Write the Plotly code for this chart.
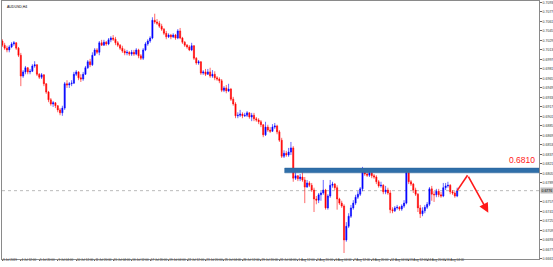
import plotly.graph_objects as go

# ---------------- data (AUDUSD, H4) ----------------
opens = [
    0.7028, 0.7021, 0.7016, 0.7013, 0.7018, 0.7023, 0.7025, 0.7016, 0.7004, 0.6969,
    0.6976, 0.6983, 0.6976, 0.6977, 0.6986, 0.6988, 0.6972, 0.6967, 0.6971, 0.6956,
    0.6942, 0.6929, 0.6922, 0.6924, 0.6919, 0.6912, 0.6907, 0.6915, 0.6956, 0.6954,
    0.6956, 0.6957, 0.6972, 0.6976, 0.6966, 0.6964, 0.6972, 0.6983, 0.6993, 0.6988,
    0.7004, 0.7013, 0.7009, 0.7025, 0.7021, 0.7026, 0.7023, 0.7030, 0.7033, 0.7031,
    0.7025, 0.7021, 0.7016, 0.7011, 0.7008, 0.7009, 0.7006, 0.7009, 0.7006, 0.7013,
    0.7003, 0.6999, 0.7013, 0.7023, 0.7028, 0.7033, 0.7063, 0.7060, 0.7058, 0.7053,
    0.7048, 0.7041, 0.7035, 0.7038, 0.7035, 0.7038, 0.7033, 0.7045, 0.7033, 0.7026,
    0.7021, 0.7018, 0.7013, 0.7020, 0.6999, 0.6991, 0.6993, 0.6974, 0.6976, 0.6972,
    0.6976, 0.6969, 0.6972, 0.6966, 0.6964, 0.6961, 0.6945, 0.6949, 0.6944, 0.6947,
    0.6930, 0.6922, 0.6902, 0.6903, 0.6905, 0.6902, 0.6903, 0.6907, 0.6900, 0.6903,
    0.6897, 0.6895, 0.6892, 0.6887, 0.6870, 0.6883, 0.6878, 0.6876, 0.6883, 0.6885,
    0.6875, 0.6861, 0.6834, 0.6839, 0.6836, 0.6841, 0.6848, 0.6797, 0.6801, 0.6796,
    0.6799, 0.6794, 0.6782, 0.6789, 0.6785, 0.6777, 0.6762, 0.6760, 0.6769, 0.6772,
    0.6777, 0.6747, 0.6767, 0.6785, 0.6787, 0.6781, 0.6762, 0.6755, 0.6750, 0.6693,
    0.6716, 0.6733, 0.6747, 0.6755, 0.6765, 0.6770, 0.6779, 0.6807, 0.6804, 0.6802,
    0.6806, 0.6801, 0.6799, 0.6791, 0.6784, 0.6785, 0.6774, 0.6777, 0.6772, 0.6744,
    0.6742, 0.6747, 0.6748, 0.6745, 0.6750, 0.6755, 0.6806, 0.6791, 0.6787, 0.6777,
    0.6770, 0.6747, 0.6737, 0.6742, 0.6748, 0.6753, 0.6779, 0.6770, 0.6769, 0.6775,
    0.6769, 0.6767, 0.6781, 0.6784, 0.6785, 0.6774, 0.6772, 0.6767,
]
highs = [
    0.7031, 0.7025, 0.7020, 0.7021, 0.7026, 0.7028, 0.7026, 0.7018, 0.7008, 0.6979,
    0.6986, 0.6984, 0.6981, 0.6989, 0.6994, 0.6989, 0.6974, 0.6974, 0.6972, 0.6957,
    0.6944, 0.6932, 0.6927, 0.6925, 0.6920, 0.6915, 0.6919, 0.6959, 0.6962, 0.6959,
    0.6962, 0.6976, 0.6979, 0.6977, 0.6972, 0.6976, 0.6986, 0.6996, 0.6998, 0.7009,
    0.7016, 0.7016, 0.7028, 0.7030, 0.7030, 0.7028, 0.7033, 0.7036, 0.7038, 0.7035,
    0.7028, 0.7023, 0.7020, 0.7015, 0.7013, 0.7011, 0.7013, 0.7013, 0.7016, 0.7015,
    0.7006, 0.7016, 0.7026, 0.7031, 0.7036, 0.7068, 0.7074, 0.7065, 0.7062, 0.7057,
    0.7050, 0.7045, 0.7041, 0.7040, 0.7041, 0.7040, 0.7048, 0.7050, 0.7035, 0.7028,
    0.7023, 0.7021, 0.7025, 0.7021, 0.7001, 0.6996, 0.6994, 0.6979, 0.6981, 0.6981,
    0.6983, 0.6979, 0.6977, 0.6969, 0.6967, 0.6964, 0.6952, 0.6954, 0.6956, 0.6949,
    0.6934, 0.6925, 0.6908, 0.6912, 0.6908, 0.6907, 0.6910, 0.6908, 0.6907, 0.6907,
    0.6900, 0.6898, 0.6895, 0.6888, 0.6892, 0.6887, 0.6883, 0.6888, 0.6890, 0.6887,
    0.6878, 0.6865, 0.6844, 0.6843, 0.6848, 0.6858, 0.6851, 0.6807, 0.6802, 0.6804,
    0.6807, 0.6799, 0.6794, 0.6792, 0.6789, 0.6781, 0.6767, 0.6772, 0.6775, 0.6794,
    0.6779, 0.6770, 0.6794, 0.6791, 0.6789, 0.6785, 0.6764, 0.6759, 0.6753, 0.6723,
    0.6738, 0.6752, 0.6760, 0.6769, 0.6775, 0.6782, 0.6816, 0.6814, 0.6809, 0.6811,
    0.6809, 0.6804, 0.6802, 0.6794, 0.6791, 0.6787, 0.6784, 0.6781, 0.6777, 0.6748,
    0.6750, 0.6752, 0.6750, 0.6753, 0.6760, 0.6814, 0.6809, 0.6794, 0.6789, 0.6781,
    0.6772, 0.6752, 0.6748, 0.6752, 0.6757, 0.6782, 0.6784, 0.6775, 0.6779, 0.6779,
    0.6774, 0.6789, 0.6789, 0.6791, 0.6787, 0.6777, 0.6775, 0.6781,
]
lows = [
    0.7018, 0.7013, 0.7009, 0.7009, 0.7016, 0.7020, 0.7013, 0.7001, 0.6952, 0.6966,
    0.6972, 0.6972, 0.6972, 0.6976, 0.6983, 0.6969, 0.6964, 0.6964, 0.6952, 0.6939,
    0.6925, 0.6919, 0.6917, 0.6915, 0.6908, 0.6903, 0.6902, 0.6912, 0.6949, 0.6949,
    0.6952, 0.6956, 0.6969, 0.6962, 0.6959, 0.6961, 0.6971, 0.6981, 0.6984, 0.6986,
    0.7003, 0.7006, 0.7004, 0.7020, 0.7020, 0.7020, 0.7021, 0.7026, 0.7028, 0.7021,
    0.7018, 0.7013, 0.7008, 0.7004, 0.7004, 0.7003, 0.7003, 0.7003, 0.7004, 0.6999,
    0.6996, 0.6996, 0.7011, 0.7020, 0.7025, 0.7031, 0.7057, 0.7055, 0.7050, 0.7045,
    0.7038, 0.7031, 0.7033, 0.7031, 0.7033, 0.7030, 0.7031, 0.7031, 0.7023, 0.7018,
    0.7015, 0.7011, 0.7011, 0.6996, 0.6988, 0.6988, 0.6971, 0.6971, 0.6969, 0.6971,
    0.6966, 0.6966, 0.6962, 0.6961, 0.6957, 0.6942, 0.6942, 0.6940, 0.6942, 0.6927,
    0.6919, 0.6898, 0.6898, 0.6900, 0.6898, 0.6900, 0.6900, 0.6897, 0.6893, 0.6893,
    0.6892, 0.6888, 0.6883, 0.6866, 0.6868, 0.6875, 0.6873, 0.6875, 0.6880, 0.6871,
    0.6858, 0.6831, 0.6831, 0.6833, 0.6833, 0.6836, 0.6791, 0.6794, 0.6792, 0.6792,
    0.6791, 0.6755, 0.6781, 0.6782, 0.6774, 0.6740, 0.6753, 0.6755, 0.6759, 0.6769,
    0.6744, 0.6744, 0.6764, 0.6781, 0.6777, 0.6744, 0.6752, 0.6747, 0.6671, 0.6690,
    0.6713, 0.6730, 0.6744, 0.6752, 0.6762, 0.6767, 0.6775, 0.6801, 0.6799, 0.6799,
    0.6797, 0.6796, 0.6787, 0.6781, 0.6781, 0.6770, 0.6770, 0.6769, 0.6738, 0.6738,
    0.6740, 0.6744, 0.6742, 0.6742, 0.6747, 0.6753, 0.6787, 0.6784, 0.6772, 0.6767,
    0.6740, 0.6730, 0.6733, 0.6738, 0.6745, 0.6750, 0.6759, 0.6757, 0.6765, 0.6765,
    0.6764, 0.6765, 0.6777, 0.6781, 0.6770, 0.6769, 0.6764, 0.6765,
]
closes = [
    0.7021, 0.7016, 0.7013, 0.7018, 0.7023, 0.7025, 0.7016, 0.7004, 0.6969, 0.6976,
    0.6983, 0.6976, 0.6977, 0.6986, 0.6988, 0.6972, 0.6967, 0.6971, 0.6956, 0.6942,
    0.6929, 0.6922, 0.6924, 0.6919, 0.6912, 0.6907, 0.6915, 0.6956, 0.6954, 0.6956,
    0.6957, 0.6972, 0.6976, 0.6966, 0.6964, 0.6972, 0.6983, 0.6993, 0.6988, 0.7004,
    0.7013, 0.7009, 0.7025, 0.7021, 0.7026, 0.7023, 0.7030, 0.7033, 0.7031, 0.7025,
    0.7021, 0.7016, 0.7011, 0.7008, 0.7009, 0.7006, 0.7009, 0.7006, 0.7013, 0.7003,
    0.6999, 0.7013, 0.7023, 0.7028, 0.7033, 0.7063, 0.7060, 0.7058, 0.7053, 0.7048,
    0.7041, 0.7035, 0.7038, 0.7035, 0.7038, 0.7033, 0.7045, 0.7033, 0.7026, 0.7021,
    0.7018, 0.7013, 0.7020, 0.6999, 0.6991, 0.6993, 0.6974, 0.6976, 0.6972, 0.6976,
    0.6969, 0.6972, 0.6966, 0.6964, 0.6961, 0.6945, 0.6949, 0.6944, 0.6947, 0.6930,
    0.6922, 0.6902, 0.6903, 0.6905, 0.6902, 0.6903, 0.6907, 0.6900, 0.6903, 0.6897,
    0.6895, 0.6892, 0.6887, 0.6870, 0.6883, 0.6878, 0.6876, 0.6883, 0.6885, 0.6875,
    0.6861, 0.6834, 0.6839, 0.6836, 0.6841, 0.6848, 0.6797, 0.6801, 0.6796, 0.6799,
    0.6794, 0.6782, 0.6789, 0.6785, 0.6777, 0.6762, 0.6760, 0.6769, 0.6772, 0.6777,
    0.6747, 0.6767, 0.6785, 0.6787, 0.6781, 0.6762, 0.6755, 0.6750, 0.6693, 0.6716,
    0.6733, 0.6747, 0.6755, 0.6765, 0.6770, 0.6779, 0.6807, 0.6804, 0.6802, 0.6806,
    0.6801, 0.6799, 0.6791, 0.6784, 0.6785, 0.6774, 0.6777, 0.6772, 0.6744, 0.6742,
    0.6747, 0.6748, 0.6745, 0.6750, 0.6755, 0.6806, 0.6791, 0.6787, 0.6777, 0.6770,
    0.6747, 0.6737, 0.6742, 0.6748, 0.6753, 0.6779, 0.6770, 0.6769, 0.6775, 0.6769,
    0.6767, 0.6781, 0.6784, 0.6785, 0.6774, 0.6772, 0.6767, 0.6776,
]
assert len(opens) == len(highs) == len(lows) == len(closes) == 198

time_labels = [
    "3 Jul 2019", "4 Jul 12:00", "5 Jul 20:00", "9 Jul 04:00", "10 Jul 12:00",
    "11 Jul 20:00", "15 Jul 04:00", "16 Jul 12:00", "17 Jul 20:00", "19 Jul 04:00",
    "22 Jul 12:00", "23 Jul 20:00", "25 Jul 04:00", "26 Jul 12:00", "29 Jul 20:00",
    "31 Jul 04:00", "1 Aug 12:00", "2 Aug 20:00", "6 Aug 04:00", "7 Aug 12:00",
    "8 Aug 20:00", "12 Aug 04:00", "13 Aug 12:00", "14 Aug 20:00", "16 Aug 04:00",
]
bars_per_label = 8

# the grid label next to the current price (0.6773) is hidden by the price tag
price_ticks = [
    0.7093, 0.7077, 0.7061, 0.7045, 0.7029, 0.7013, 0.6997, 0.6981, 0.6965, 0.6949,
    0.6933, 0.6917, 0.6901, 0.6885, 0.6869, 0.6853, 0.6837, 0.6821, 0.6805, 0.6789,
    0.6757, 0.6741, 0.6725, 0.6709, 0.6693, 0.6677, 0.6661,
]

resistance_level = 0.6810
resistance_band = [0.6806, 0.6814]
band_start_bar = 122.3

proj_bars = [197, 201.5, 210.5]
proj_prices = [0.6776, 0.6802, 0.6739]

# ---------------- figure ----------------
bars = list(range(len(closes)))
x_range = [-0.15, 232.45]
y_range = [0.66609, 0.70954]
FONT = "Liberation Sans, Arial, sans-serif"

fig = go.Figure()
fig.add_trace(go.Candlestick(
    x=bars, open=opens, high=highs, low=lows, close=closes,
    increasing=dict(line=dict(color="#0000ff", width=0.6), fillcolor="#0000ff"),
    decreasing=dict(line=dict(color="#ff0000", width=0.6), fillcolor="#ff0000"),
    hoverinfo="skip", showlegend=False,
))

# projected path (red arrow)
fig.add_trace(go.Scatter(
    x=proj_bars[:2], y=proj_prices[:2], mode="lines",
    line=dict(color="#ff1a1a", width=1.6), hoverinfo="skip", showlegend=False,
))
fig.add_annotation(
    x=proj_bars[2], y=proj_prices[2], ax=proj_bars[1], ay=proj_prices[1],
    xref="x", yref="y", axref="x", ayref="y", text="",
    showarrow=True, arrowhead=2, arrowsize=1.2, arrowwidth=1.6, arrowcolor="#ff1a1a",
    standoff=0, startstandoff=0,
)

# resistance band
fig.add_shape(
    type="rect", xref="x", yref="y",
    x0=band_start_bar, x1=x_range[1], y0=resistance_band[0], y1=resistance_band[1],
    fillcolor="#2f6fa9", line=dict(color="#28609a", width=0.5), layer="above",
)
fig.add_annotation(
    x=1, xref="paper", xanchor="right", xshift=-2,
    y=resistance_band[1], yref="y", yanchor="bottom", yshift=1,
    text=f"{resistance_level:.4f}", showarrow=False,
    font=dict(family=FONT, size=8.5, color="#ff2020"),
)

# current price line + label
fig.add_shape(
    type="line", xref="paper", yref="y", x0=0, x1=1,
    y0=closes[-1], y1=closes[-1],
    line=dict(color="#a8a8a8", width=0.8, dash="dot"), layer="below",
)
fig.add_annotation(
    x=1, xref="paper", xanchor="left", xshift=1,
    y=closes[-1], yref="y", yanchor="middle",
    text=f"{closes[-1]:.4f}", showarrow=False,
    font=dict(family=FONT, size=3.5, color="#000000"),
    bgcolor="#bdbdbd", borderpad=0.5,
)

# symbol caption
fig.add_annotation(
    x=0, xref="paper", xanchor="left", xshift=3,
    y=1, yref="paper", yanchor="top", yshift=-2,
    text="AUDUSD,H4", showarrow=False,
    font=dict(family=FONT, size=3.5, color="#000000"),
)

fig.update_layout(
    width=553, height=267,
    margin=dict(l=2, r=14, t=1, b=8, autoexpand=False),
    paper_bgcolor="white", plot_bgcolor="white",
    font=dict(family=FONT, color="#222222"),
    showlegend=False,
)
fig.update_xaxes(
    range=x_range, rangeslider=dict(visible=False),
    tickmode="array",
    tickvals=[i * bars_per_label for i in range(len(time_labels))],
    ticktext=time_labels,
    tickangle=0,
    ticklabelposition="outside right",
    ticklabelstandoff=-3,
    tickfont=dict(family=FONT, size=3, color="#333333"),
    ticks="outside", ticklen=1.5, tickwidth=0.6, tickcolor="#666666",
    showline=True, linecolor="#8a8a8a", linewidth=0.8, mirror=True,
    showgrid=False, zeroline=False,
)
fig.update_yaxes(
    range=y_range, side="right",
    tickmode="array", tickvals=price_ticks,
    ticktext=[f"{v:.4f}" for v in price_ticks],
    tickfont=dict(family=FONT, size=3.5, color="#333333"),
    ticks="outside", ticklen=2, tickwidth=0.6, tickcolor="#666666",
    showline=True, linecolor="#8a8a8a", linewidth=0.8, mirror=True,
    showgrid=False, zeroline=False,
)

fig.write_html("out.html")
